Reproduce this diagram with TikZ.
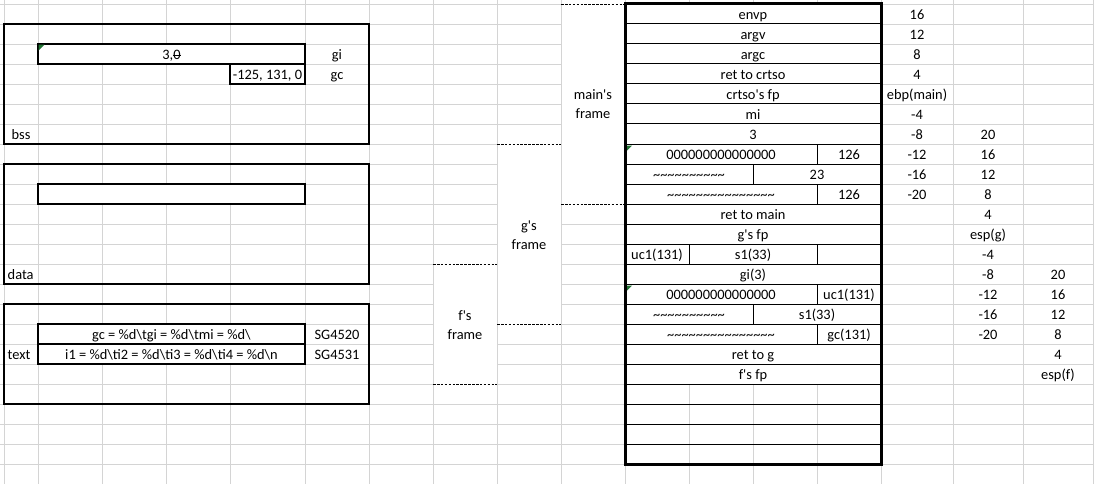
\documentclass[tikz,border=0pt]{standalone}
\usepackage{fontspec}
\setmainfont{Carlito}[Ligatures=TeXOff]

\definecolor{gridgray}{RGB}{212,212,212}
\definecolor{flaggreen}{RGB}{34,116,52}

% a run of #1 tilde characters
\newcommand\tilderun[1]{\ifnum#1>0 \textasciitilde\expandafter\tilderun\expandafter{\the\numexpr#1-1\relax}\fi}
% text with a line struck through it
\newcommand\crossedout[1]{\sbox0{#1}\rlap{\rule[0.26em]{\wd0}{0.07em}}\usebox0}

\tikzset{
  gridline/.style={gridgray, line width=0.9pt},
  boxline/.style={black, line width=1.1pt},
  rowrule/.style={black, line width=1pt},
  thickbox/.style={black, line width=3pt},
  framedash/.style={black, line width=0.9pt, dash pattern=on 2.6pt off 1.3pt},
  cell/.style={inner sep=0pt, anchor=base, font=\fontsize{14.4}{17}\selectfont},
  lcell/.style={cell, anchor=base west},
  flag/.style={fill=flaggreen, draw=none},
}

\begin{document}
\begin{tikzpicture}[x=1pt,y=-1pt]
\useasboundingbox (0,0) rectangle (1094,484);
\fill[white] (0,0) rectangle (1094,484);

% sheet grid
\foreach \gx in {4,38,102,166,230,305,369,433,497,561,625,689,753,817,881,953,1023,1093}
  \draw[gridline] (\gx,0) -- (\gx,484);
\foreach \k in {0,...,23}
  \draw[gridline] (0,4+20*\k) -- (1094,4+20*\k);

% merged areas hide the grid
\fill[white] (561.5,3.5) rectangle (624.5,204.5);
\fill[white] (497.5,143.5) rectangle (560.5,324.5);
\fill[white] (433.5,263.5) rectangle (496.5,384.5);
\fill[white] (625,4) rectangle (881,384);
\fill[white] (38,44) rectangle (305,64);
\fill[white] (38,184) rectangle (305,204);
\fill[white] (38,324) rectangle (305,364);

% ---------------- segments on the left ----------------
% bss
\draw[boxline] (4,24) rectangle (369,144);
\draw[boxline] (38,44) rectangle (305,64);
\draw[boxline] (230,64) rectangle (305,84);
\fill[flag] (38.6,44.6) -- (44.6,44.6) -- (38.6,50.6) -- cycle;
\node[cell] (gival) at (171.5,59.5) {3,\crossedout{0}};
\node[cell] (gcval) at (267.5,79.5) {-125, 131, 0};
\node[cell] (giname) at (337,59.5) {gi};
\node[cell] (gcname) at (337,79.5) {gc};
\node[lcell] (bsslbl) at (11.5,139.5) {bss};

% data
\draw[boxline] (4,164) rectangle (369,284);
\draw[boxline] (38,184) rectangle (305,204);
\node[lcell] (datalbl) at (7.5,279.5) {data};

% text
\draw[boxline] (4,304) rectangle (369,404);
\draw[boxline] (38,324) rectangle (305,344);
\draw[boxline] (38,344) rectangle (305,364);
\node[cell] (fmtone) at (171.5,339.5) {gc = \%d\textbackslash tgi = \%d\textbackslash tmi = \%d\textbackslash};
\node[cell] (fmttwo) at (171.5,359.5) {i1 = \%d\textbackslash ti2 = \%d\textbackslash ti3 = \%d\textbackslash ti4 = \%d\textbackslash n};
\node[cell] (sgone) at (337,339.5) {SG4520};
\node[cell] (sgtwo) at (337,359.5) {SG4531};
\node[lcell] (textlbl) at (7.5,359.5) {text};

% ---------------- frame brackets ----------------
\draw[framedash] (561,4) -- (625,4);
\draw[framedash] (561,204) -- (625,204);
\node[cell] (mainfa) at (593,100) {main's};
\node[cell] (mainfb) at (593,119) {frame};

\draw[framedash] (497,144) -- (561,144);
\draw[framedash] (497,324) -- (561,324);
\node[cell] (gfa) at (529,230) {g's};
\node[cell] (gfb) at (529,249) {frame};

\draw[framedash] (433,264) -- (497,264);
\draw[framedash] (433,384) -- (497,384);
\node[cell] (ffa) at (465,320) {f's};
\node[cell] (ffb) at (465,339) {frame};

% ---------------- stack ----------------
\foreach \k in {1,...,22}
  \draw[rowrule] (625,4+20*\k) -- (881,4+20*\k);
% split cells
\foreach \sx/\r in {817/7, 753/8, 817/9, 689/12, 817/12, 817/14, 753/15, 817/16}
  \draw[rowrule] (\sx,4+20*\r) -- (\sx,24+20*\r);
\fill[flag] (626.5,145.5) -- (632,145.5) -- (626.5,151) -- cycle;
\fill[flag] (626.5,285.5) -- (632,285.5) -- (626.5,291) -- cycle;

% full-width slots: row / text
\foreach \r/\t [count=\n] in {0/envp, 1/argv, 2/argc, 3/ret to crtso, 4/crtso's fp, 5/mi, 6/3,
    10/ret to main, 11/g's fp, 13/gi(3), 17/ret to g, 18/f's fp}
  \node[cell] (slot\n) at (753,19.5+20*\r) {\t};

\node[cell] (zeroa) at (721,159.5) {000000000000000};
\node[cell] (cha) at (849,159.5) {126};
\node[cell] (tila) at (689,179.5) {\tilderun{10}};
\node[cell] (shorta) at (817,179.5) {23};
\node[cell] (tilb) at (721,199.5) {\tilderun{15}};
\node[cell] (chb) at (849,199.5) {126};

\node[cell] (ucsave) at (657,259.5) {uc1(131)};
\node[cell] (ssave) at (753,259.5) {s1(33)};

\node[cell] (zerob) at (721,299.5) {000000000000000};
\node[cell] (ucarg) at (849,299.5) {uc1(131)};
\node[cell] (tilc) at (689,319.5) {\tilderun{10}};
\node[cell] (sarg) at (817,319.5) {s1(33)};
\node[cell] (tild) at (721,339.5) {\tilderun{15}};
\node[cell] (gcarg) at (849,339.5) {gc(131)};

\draw[thickbox] (625,4) rectangle (881,464);

% ---------------- offsets ----------------
\foreach \r/\t [count=\n] in {0/16, 1/12, 2/8, 3/4, 4/ebp(main), 5/-4, 6/-8, 7/-12, 8/-16, 9/-20}
  \node[cell] (offmain\n) at (917,19.5+20*\r) {\t};
\foreach \r/\t [count=\n] in {6/20, 7/16, 8/12, 9/8, 10/4, 11/esp(g), 12/-4, 13/-8, 14/-12, 15/-16, 16/-20}
  \node[cell] (offg\n) at (988,19.5+20*\r) {\t};
\foreach \r/\t [count=\n] in {13/20, 14/16, 15/12, 16/8, 17/4, 18/esp(f)}
  \node[cell] (offf\n) at (1058,19.5+20*\r) {\t};
\end{tikzpicture}
\end{document}
